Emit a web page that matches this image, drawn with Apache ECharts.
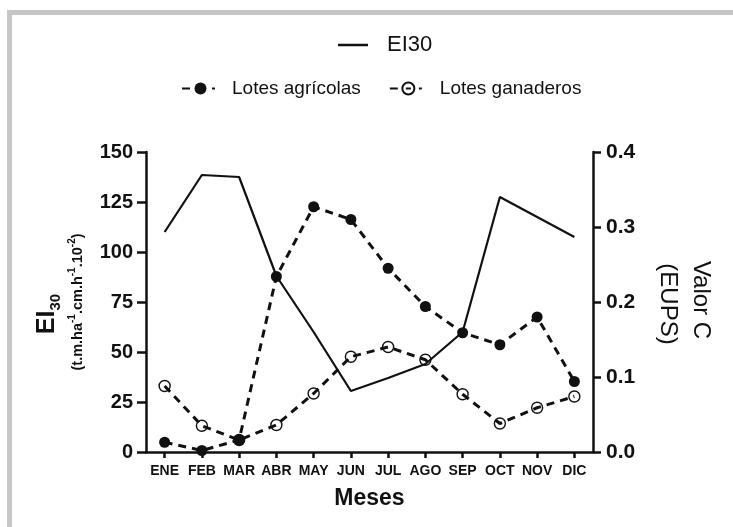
<!DOCTYPE html>
<html>
<head>
<meta charset="utf-8">
<script src="https://cdn.jsdelivr.net/npm/echarts@6/dist/echarts.min.js"></script>
<style>
  html, body { margin: 0; padding: 0; background: #fff; }
  #chart { width: 733px; height: 527px; }
</style>
</head>
<body>
<div id="chart"></div>
<script>
// Monthly categories
const months = ['ENE', 'FEB', 'MAR', 'ABR', 'MAY', 'JUN', 'JUL', 'AGO', 'SEP', 'OCT', 'NOV', 'DIC'];

// Rainfall erosivity EI30 (left axis)
const ei30 = [110, 138.5, 137.5, 88, 60, 30.5, 37, 44, 60, 127.5, 117.5, 107.5];

// C factor (EUPS) per land use (right axis)
const lotesAgricolas = [0.013, 0.002, 0.016, 0.234, 0.327, 0.310, 0.245, 0.194, 0.159, 0.143, 0.180, 0.094];
const lotesGanaderos = [0.088, 0.035, 0.016, 0.036, 0.078, 0.127, 0.140, 0.123, 0.077, 0.038, 0.059, 0.074];

// Axis ticks
const leftTicks = { min: 0, max: 150, interval: 25 };
const rightTicks = { min: 0, max: 0.4, interval: 0.1 };

const FONT = '"Liberation Sans", Arial, sans-serif';
const INK = '#111';

const chart = echarts.init(document.getElementById('chart'), null, { renderer: 'canvas' });

const axisCommon = {
  axisLine: { show: true, lineStyle: { color: INK, width: 2.5 } },
  axisTick: { show: true, length: 8, lineStyle: { color: INK, width: 2.5 } },
  splitLine: { show: false }
};

chart.setOption({
  animation: false,
  backgroundColor: '#fff',
  grid: { left: 146, right: 140, top: 152, bottom: 75, containLabel: false },
  legend: [
    {
      data: [{ name: 'EI30', icon: 'rect', itemStyle: { color: INK } }],
      left: 338, top: 34, padding: 0,
      itemWidth: 30, itemHeight: 2.5,
      textStyle: { fontFamily: FONT, fontSize: 22, color: INK, padding: [0, 0, 0, 14] },
      selectedMode: false
    },
    {
      data: [
        { name: 'Lotes agrícolas', lineStyle: { type: [8, 22, 3, 10] } },
        { name: 'Lotes ganaderos', lineStyle: { type: [8, 8, 5, 8, 3, 10] } }
      ],
      left: 181, top: 79, padding: 0,
      itemWidth: 37, itemHeight: 15, itemGap: 28,
      textStyle: { fontFamily: FONT, fontSize: 19, color: INK, padding: [0, 0, 0, 8] },
      selectedMode: false
    }
  ],
  xAxis: {
    type: 'category',
    data: months,
    boundaryGap: true,
    ...axisCommon,
    axisTick: { show: true, alignWithLabel: true, interval: 0, length: 6, lineStyle: { color: INK, width: 2.5 } },
    axisLabel: { interval: 0, fontFamily: FONT, fontWeight: 'bold', fontSize: 14, color: INK, margin: 12 },
    name: 'Meses',
    nameLocation: 'middle',
    nameGap: 35,
    nameTextStyle: { fontFamily: FONT, fontWeight: 'bold', fontSize: 23, color: INK }
  },
  yAxis: [
    {
      type: 'value',
      position: 'left',
      min: leftTicks.min, max: leftTicks.max, interval: leftTicks.interval,
      ...axisCommon,
      axisTick: { show: true, length: 9, lineStyle: { color: INK, width: 2.5 } },
      axisLabel: { fontFamily: FONT, fontWeight: 'bold', fontSize: 20, color: INK, margin: 13 }
    },
    {
      type: 'value',
      position: 'right',
      min: rightTicks.min, max: rightTicks.max, interval: rightTicks.interval,
      ...axisCommon,
      axisLabel: {
        fontFamily: FONT, fontWeight: 'bold', fontSize: 21, color: INK, margin: 13,
        formatter: v => v.toFixed(1)
      }
    }
  ],
  graphic: [
    // frame strips along top and left
    { type: 'rect', left: 7, top: 10, shape: { width: 726, height: 5 }, style: { fill: '#c6c6c6' }, silent: true },
    { type: 'rect', left: 7, top: 10, shape: { width: 5, height: 517 }, style: { fill: '#c6c6c6' }, silent: true },
    // left axis title
    {
      type: 'text', x: 46, y: 314, rotation: Math.PI / 2,
      style: {
        text: '{b|EI}{s|30}',
        align: 'center', verticalAlign: 'middle',
        rich: {
          b: { fontFamily: FONT, fontWeight: 'bold', fontSize: 25, fill: INK, lineHeight: 28, verticalAlign: 'bottom' },
          s: { fontFamily: FONT, fontWeight: 'bold', fontSize: 15, fill: INK, lineHeight: 28, verticalAlign: 'bottom', padding: [0, 0, -3, 0] }
        }
      },
      silent: true
    },
    {
      type: 'text', x: 76, y: 302, rotation: Math.PI / 2,
      style: {
        text: '{m|(t.m.ha}{p|-1}{m|.cm.h}{p|-1}{m|.10}{p|-2}{m|)}',
        align: 'center', verticalAlign: 'middle',
        rich: {
          m: { fontFamily: FONT, fontWeight: 'bold', fontSize: 14.5, fill: INK, lineHeight: 18, verticalAlign: 'bottom' },
          p: { fontFamily: FONT, fontWeight: 'bold', fontSize: 10, fill: INK, lineHeight: 18, verticalAlign: 'top' }
        }
      },
      silent: true
    },
    // right axis title
    {
      type: 'text', x: 701, y: 300, rotation: -Math.PI / 2,
      style: { text: 'Valor C', align: 'center', verticalAlign: 'middle', fontFamily: FONT, fontSize: 24, fill: INK },
      silent: true
    },
    {
      type: 'text', x: 668, y: 304, rotation: -Math.PI / 2,
      style: { text: '(EUPS)', align: 'center', verticalAlign: 'middle', fontFamily: FONT, fontSize: 24, fill: INK },
      silent: true
    }
  ],
  series: [
    {
      name: 'EI30',
      type: 'line',
      yAxisIndex: 0,
      data: ei30,
      symbol: 'none',
      color: INK,
      lineStyle: { color: INK, width: 2.2 },
      z: 2,
      emphasis: { disabled: true }
    },
    {
      name: 'Lotes ganaderos',
      type: 'line',
      yAxisIndex: 1,
      data: lotesGanaderos,
      symbol: 'circle',
      symbolSize: 11,
      color: INK,
      itemStyle: { color: 'rgba(255,255,255,0)', borderColor: INK, borderWidth: 1.4 },
      lineStyle: { color: INK, width: 3, type: [8, 6] },
      z: 3,
      emphasis: { disabled: true }
    },
    {
      name: 'Lotes agrícolas',
      type: 'line',
      yAxisIndex: 1,
      data: lotesAgricolas,
      symbol: 'circle',
      symbolSize: 11,
      color: INK,
      itemStyle: { color: INK, borderColor: INK, borderWidth: 0 },
      lineStyle: { color: INK, width: 3, type: [8, 6] },
      z: 4,
      emphasis: { disabled: true }
    }
  ]
});
</script>
</body>
</html>
